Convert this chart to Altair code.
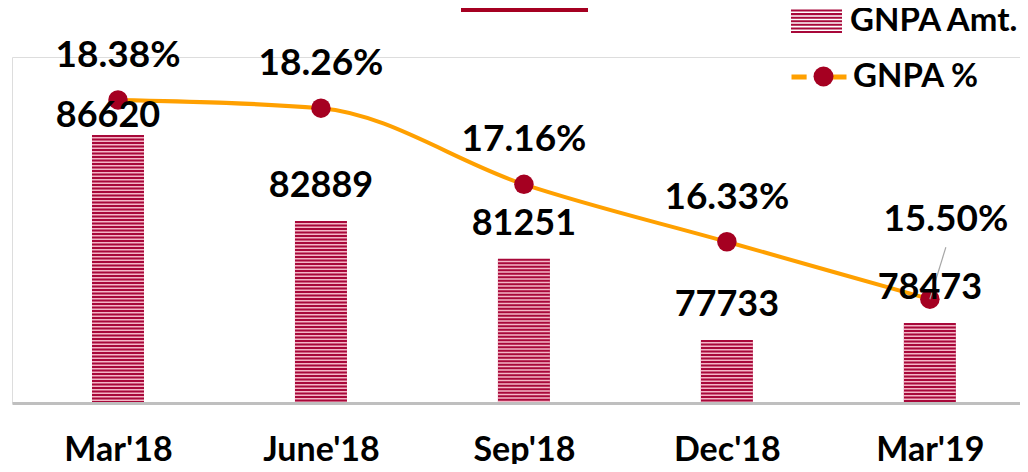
import json
import altair as alt
import pandas as pd

periods = ["Mar'18", "June'18", "Sep'18", "Dec'18", "Mar'19"]
gnpa_amt = [86620, 82889, 81251, 77733, 78473]
gnpa_pct = [18.38, 18.26, 17.16, 16.33, 15.50]

df = pd.DataFrame({"period": periods, "amt": gnpa_amt, "pct": gnpa_pct})
df["idx"] = list(range(len(periods)))
df["pct_label"] = [f"{v:.2f}%" for v in gnpa_pct]
df["amt_label"] = [str(v) for v in gnpa_amt]
df["s_bar"] = "GNPA Amt."
df["s_ln"] = "GNPA %"
df["s_pt"] = "GNPA % "   # distinct domain so the marker legend is not merged with the line legend

FONT = "Lato"
RED = "#a50021"
ORANGE = "#ffa000"
DARK = "#a8083a"
LIGHT = "#f4b6c6"

PLOT_W = 1008

# striped legend swatch (filled stripes)
parts = []
for k in range(7):
    t = -0.43 + 0.14 * k
    parts.append(f"M-1,{t:.3f}H1V{t + 0.08:.3f}H-1Z")
stripe_path = "".join(parts)

label_expr = "[" + ",".join(json.dumps(p) for p in periods) + "][datum.value]"

base = alt.Chart(df)

x_enc = alt.X(
    "idx:Q",
    scale=alt.Scale(domain=[-0.4976, -0.4976 + PLOT_W / 205], nice=False, zero=False),
    axis=alt.Axis(title=None, values=list(range(len(periods))), labelExpr=label_expr,
                  labelAngle=0, labelFont=FONT, labelFontSize=34, labelFlush=False,
                  labelOverlap=False, labelBound=False,
                  labelFontWeight="bold", labelColor="black", ticks=False,
                  domainColor="#bfbfbf", domainWidth=3, labelPadding=30,
                  grid=False, zindex=1),
)
amt_scale = alt.Scale(domain=[75000, 90000], nice=False, zero=False)
pct_scale = alt.Scale(domain=[14, 19], nice=False, zero=False)
y_amt = alt.Y("amt:Q", scale=amt_scale, axis=None)
y_pct = alt.Y("pct:Q", scale=pct_scale, axis=None)

lab = dict(labelFont=FONT, labelFontSize=33, labelFontWeight="bold",
           labelColor="black", labelLimit=400)

bars = base.mark_bar(size=52).encode(
    x=x_enc, y=y_amt, y2=alt.datum(75000),
    fill=alt.Fill("s_bar:N", scale=alt.Scale(domain=["GNPA Amt."], range=[DARK]),
                  legend=alt.Legend(title=None, orient="none", legendX=779, legendY=-62,
                                    symbolType=stripe_path, symbolSize=2601,
                                    symbolStrokeWidth=0, labelOffset=8, **lab)),
)
light = base.mark_rule(color=LIGHT, strokeWidth=52, strokeDash=[1.5, 2],
                       strokeDashOffset=1.5, strokeCap="butt").encode(
    x=x_enc, y=y_amt, y2=alt.datum(75000))

line = base.mark_line(interpolate="monotone", strokeWidth=4).encode(
    x=x_enc, y=y_pct,
    stroke=alt.Stroke("s_ln:N", scale=alt.Scale(domain=["GNPA %"], range=[ORANGE]),
                      legend=alt.Legend(title=None, orient="none", legendX=777, legendY=-10,
                                        symbolType="M-1,0H-0.45M0.45,0H1", symbolSize=3025,
                                        symbolStrokeWidth=5, labelOffset=4, **lab)),
)
points = base.mark_circle(size=380, opacity=1).encode(
    x=x_enc, y=y_pct,
    color=alt.Color("s_pt:N", scale=alt.Scale(domain=["GNPA % "], range=[RED]),
                    legend=alt.Legend(title=None, orient="none", legendX=795, legendY=3,
                                      symbolType="circle", symbolSize=400,
                                      symbolStrokeWidth=0, labelExpr="''",
                                      labelFontSize=33, labelOffset=5)),
)
leader = base.mark_rule(color="#a6a6a6", strokeWidth=1.2, x2Offset=16, y2Offset=-52).encode(
    x=x_enc, y=y_pct, x2=alt.X2("idx:Q"), y2=alt.Y2("pct:Q")
).transform_filter(alt.datum.period == periods[-1])

txt_pct = dict(font=FONT, fontSize=37, fontWeight="bold", color="black", baseline="alphabetic")
txt_amt = dict(font=FONT, fontSize=36, fontWeight="bold", color="black", baseline="alphabetic")
pct_text = base.mark_text(dy=-33, **txt_pct).encode(x=x_enc, y=y_pct, text="pct_label:N").transform_filter(
    alt.datum.period != periods[-1])
pct_last = base.mark_text(dx=16, dy=-68, **txt_pct).encode(x=x_enc, y=y_pct, text="pct_label:N").transform_filter(
    alt.datum.period == periods[-1])
amt_text = base.mark_text(dy=-24, **txt_amt).encode(x=x_enc, y=y_amt, text="amt_label:N").transform_filter(
    alt.datum.period != periods[0])
amt_first = base.mark_text(dx=-10, dy=-8, **txt_amt).encode(x=x_enc, y=y_amt, text="amt_label:N").transform_filter(
    alt.datum.period == periods[0])

underline = alt.Chart(pd.DataFrame({"t": ["GNPA"]})).mark_rule(color=RED, strokeWidth=4).encode(
    x=alt.value(449), x2=alt.value(576), y=alt.value(-47))

chart = alt.layer(
    bars, light, line, points, leader, pct_text, pct_last, amt_text, amt_first, underline
).resolve_scale(y="independent").properties(
    width=PLOT_W, height=346,
    padding={"left": 4, "top": 49, "right": 0, "bottom": 61},
    autosize=alt.AutoSizeParams(type="none"),
    title=alt.TitleParams("GNPA", fontSize=48, color=RED, font=FONT, fontWeight="bold",
                          anchor="start", offset=52, baseline="alphabetic", frame="group", dx=455),
).configure_view(strokeWidth=0).configure(background="white")

chart.save("out.html", embed_options={"renderer": "svg", "actions": False})
